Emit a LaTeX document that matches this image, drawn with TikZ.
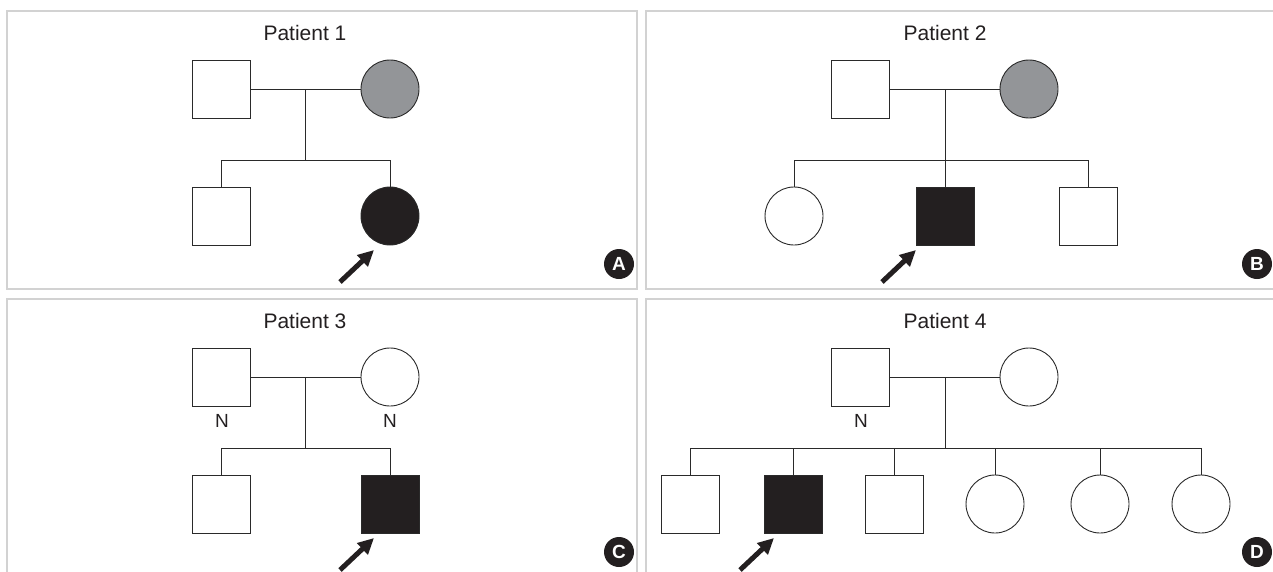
\documentclass[tikz,border=0pt]{standalone}
\usepackage{fontspec}
\setmainfont{Liberation Sans}
\usetikzlibrary{arrows.meta,shapes.geometric}
\definecolor{panelgray}{HTML}{D2D2D2}
\definecolor{affgray}{HTML}{939598}
\definecolor{affblack}{HTML}{231F20}
\definecolor{linegray}{HTML}{2A2A2A}
\tikzset{
  panel/.style={draw=panelgray, line width=1.4pt},
  male/.style={draw=linegray, line width=0.9pt, rectangle, minimum width=58pt, minimum height=58pt, inner sep=0pt, fill=white},
  female/.style={draw=linegray, line width=0.9pt, ellipse, minimum width=58pt, minimum height=58pt, inner sep=0pt, fill=white},
  carrier/.style={fill=affgray},
  affected/.style={fill=affblack},
  link/.style={draw=linegray, line width=0.9pt},
  proband/.style={draw=affblack, line width=5pt, -{Triangle[length=16pt,width=15pt]}},
  title/.style={font=\fontsize{21}{24}\selectfont, text=affblack},
  nlabel/.style={font=\fontsize{19}{22}\selectfont, text=affblack},
  tag/.style={circle, fill=affblack, minimum size=30pt, inner sep=0pt, text=white, font=\fontsize{19}{19}\selectfont\bfseries}
}
\begin{document}
\begin{tikzpicture}[x=1pt,y=-1pt]
\useasboundingbox (0,0) rectangle (1273,571);
% panel frames
\draw[panel] (7,11) rectangle (637,289);
\draw[panel] (1280,11) -- (646,11) -- (646,289) -- (1280,289);
\draw[panel] (7,580) -- (7,299) -- (637,299) -- (637,580);
\draw[panel] (1280,299) -- (646,299) -- (646,580);

% ---------- Panel A ----------
\node[title] (tA) at (305,33) {Patient 1};
\node[male] (a1) at (221,89) {};
\node[female,carrier] (a2) at (390,89) {};
\coordinate (am) at (305,89);
\coordinate (as) at (305,160);
\coordinate (asl) at (221,160);
\coordinate (asr) at (390,160);
\node[male] (a3) at (221,216) {};
\node[female,affected] (a4) at (390,216) {};
\draw[link] (a1.east) -- (a2.west);
\draw[link] (am) -- (as);
\draw[link] (a3.north) -- (asl) -- (asr) -- (a4.north);
\coordinate (aa) at (340,282);
\coordinate (aT) at (374,250);
\draw[proband] (aa) -- (aT);
\node[tag] (tgA) at (619,264) {A};

% ---------- Panel B ----------
\node[title] (tB) at (945,33) {Patient 2};
\node[male] (b1) at (860,89) {};
\node[female,carrier] (b2) at (1029,89) {};
\coordinate (bm) at (945,89);
\coordinate (bsl) at (794,160);
\coordinate (bsr) at (1088,160);
\node[female] (b3) at (794,216) {};
\node[male,affected] (b4) at (945,216) {};
\node[male] (b5) at (1088,216) {};
\draw[link] (b1.east) -- (b2.west);
\draw[link] (bm) -- (b4.north);
\draw[link] (b3.north) -- (bsl) -- (bsr) -- (b5.north);
\coordinate (ba) at (882,282);
\coordinate (bT) at (916,250);
\draw[proband] (ba) -- (bT);
\node[tag] (tgB) at (1257,264) {B};

% ---------- Panel C ----------
\node[title] (tC) at (305,321) {Patient 3};
\node[male] (c1) at (221,377) {};
\node[female] (c2) at (390,377) {};
\node[nlabel] (n1) at (222,421) {N};
\node[nlabel] (n2) at (390,421) {N};
\coordinate (cm) at (305,377);
\coordinate (cs) at (305,448);
\coordinate (csl) at (221,448);
\coordinate (csr) at (390,448);
\node[male] (c3) at (221,504) {};
\node[male,affected] (c4) at (390,504) {};
\draw[link] (c1.east) -- (c2.west);
\draw[link] (cm) -- (cs);
\draw[link] (c3.north) -- (csl) -- (csr) -- (c4.north);
\coordinate (ca) at (340,570);
\coordinate (cT) at (374,538);
\draw[proband] (ca) -- (cT);
\node[tag] (tgC) at (619,552) {C};

% ---------- Panel D ----------
\node[title] (tD) at (945,321) {Patient 4};
\node[male] (d1) at (860,377) {};
\node[female] (d2) at (1029,377) {};
\node[nlabel] (n3) at (861,421) {N};
\coordinate (dm) at (945,377);
\coordinate (ds) at (945,448);
\coordinate (dsl) at (690,448);
\coordinate (dsr) at (1201,448);
\node[male] (d3) at (690,504) {};
\node[male,affected] (d4) at (793,504) {};
\node[male] (d5) at (894,504) {};
\node[female] (d6) at (995,504) {};
\node[female] (d7) at (1100,504) {};
\node[female] (d8) at (1201,504) {};
\draw[link] (d1.east) -- (d2.west);
\draw[link] (dm) -- (ds);
\draw[link] (d3.north) -- (dsl) -- (dsr) -- (d8.north);
\draw[link] (d4.north) -- (d4.north |- ds);
\draw[link] (d5.north) -- (d5.north |- ds);
\draw[link] (d6.north) -- (d6.north |- ds);
\draw[link] (d7.north) -- (d7.north |- ds);
\coordinate (da) at (740,570);
\coordinate (dT) at (774,538);
\draw[proband] (da) -- (dT);
\node[tag] (tgD) at (1257,552) {D};
\end{tikzpicture}
\end{document}
